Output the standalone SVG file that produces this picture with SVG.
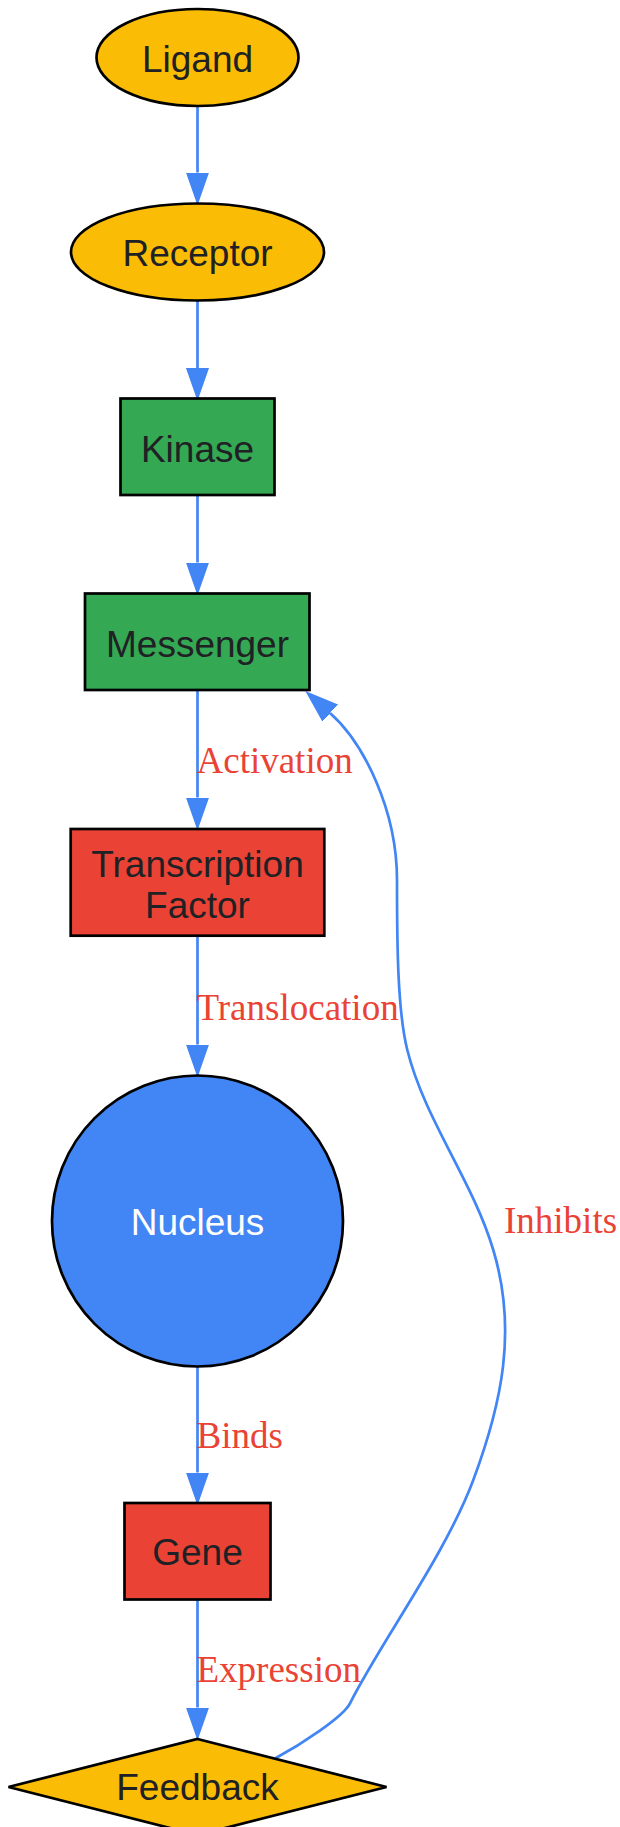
<svg xmlns="http://www.w3.org/2000/svg" width="620" height="1827" viewBox="0 0 620 1827">
<defs>
<style>
.node-shape{stroke:#000000;stroke-width:2.7}
.yellow{fill:#FBBC05}
.green{fill:#34A853}
.red{fill:#EA4335}
.blue{fill:#4285F4}
.nlabel{font-family:"Liberation Sans",Arial,sans-serif;font-size:37px;fill:#202124;text-anchor:middle}
.nlabel.white{fill:#FFFFFF}
.elabel{font-family:"Liberation Serif","Times New Roman",serif;font-size:37px;fill:#EA4335}
.edge{fill:none;stroke:#4285F4;stroke-width:2.7}
</style>
<marker id="arrow" markerUnits="userSpaceOnUse" markerWidth="34" markerHeight="26" viewBox="0 -13 34 26" refX="0" refY="0" orient="auto">
<path d="M0,-10.5 L30,0 L0,10.5 Z" fill="#4285F4" stroke="#4285F4" stroke-width="2"/>
</marker>
</defs>
<rect x="0" y="0" width="620" height="1827" fill="#FFFFFF"/>
<g id="edges">
<path class="edge" d="M197.5,106 L197.5,172.5" marker-end="url(#arrow)"/>
<path class="edge" d="M197.5,300.5 L197.5,368" marker-end="url(#arrow)"/>
<path class="edge" d="M197.5,495 L197.5,562.5" marker-end="url(#arrow)"/>
<path class="edge" d="M197.5,690 L197.5,797.5" marker-end="url(#arrow)"/>
<text class="elabel" x="196.5" y="772.5">Activation</text>
<path class="edge" d="M197.5,935.7 L197.5,1044.5" marker-end="url(#arrow)"/>
<text class="elabel" x="196.5" y="1019.5">Translocation</text>
<path class="edge" d="M197.5,1366.5 L197.5,1472.5" marker-end="url(#arrow)"/>
<text class="elabel" x="196.5" y="1448">Binds</text>
<path class="edge" d="M197.5,1599.5 L197.5,1707.5" marker-end="url(#arrow)"/>
<text class="elabel" x="196.5" y="1682">Expression</text>
<path class="edge" d="M275,1758.5 C301.5,1744.2 343.3,1716.7 350,1703.3 C380,1643.3 445.3,1555 473.3,1480 C502,1403 517.3,1330 493.3,1250 C472.3,1180 424.8,1120 407.3,1050 C397.3,1010 397,940 397,880 C397,810 363.7,742.9 330,713" marker-end="url(#arrow)"/>
<text class="elabel" x="504" y="1233">Inhibits</text>
</g>
<g id="node-ligand">
<ellipse class="node-shape yellow" cx="197.5" cy="57.5" rx="101" ry="48.5"/>
<text class="nlabel" x="197.5" y="71.5">Ligand</text>
</g>
<g id="node-receptor">
<ellipse class="node-shape yellow" cx="197.5" cy="252" rx="126.5" ry="48.5"/>
<text class="nlabel" x="197.5" y="266">Receptor</text>
</g>
<g id="node-kinase">
<rect class="node-shape green" x="120.5" y="398.5" width="154" height="96.5"/>
<text class="nlabel" x="197.5" y="461.5">Kinase</text>
</g>
<g id="node-messenger">
<rect class="node-shape green" x="85" y="593.5" width="224.5" height="96.5"/>
<text class="nlabel" x="197.5" y="656.5">Messenger</text>
</g>
<g id="node-transcription-factor">
<rect class="node-shape red" x="70.7" y="829" width="253.6" height="106.7"/>
<text class="nlabel" x="197.5" y="876.5">Transcription</text>
<text class="nlabel" x="197.5" y="917.5">Factor</text>
</g>
<g id="node-nucleus">
<circle class="node-shape blue" cx="197.5" cy="1221" r="145.5"/>
<text class="nlabel white" x="197.5" y="1235">Nucleus</text>
</g>
<g id="node-gene">
<rect class="node-shape red" x="124.5" y="1503" width="146" height="96.5"/>
<text class="nlabel" x="197.5" y="1565">Gene</text>
</g>
<g id="node-feedback">
<polygon class="node-shape yellow" points="197.5,1739 386.5,1787 197.5,1835 8.5,1787"/>
<text class="nlabel" x="197.5" y="1800">Feedback</text>
</g>
</svg>
